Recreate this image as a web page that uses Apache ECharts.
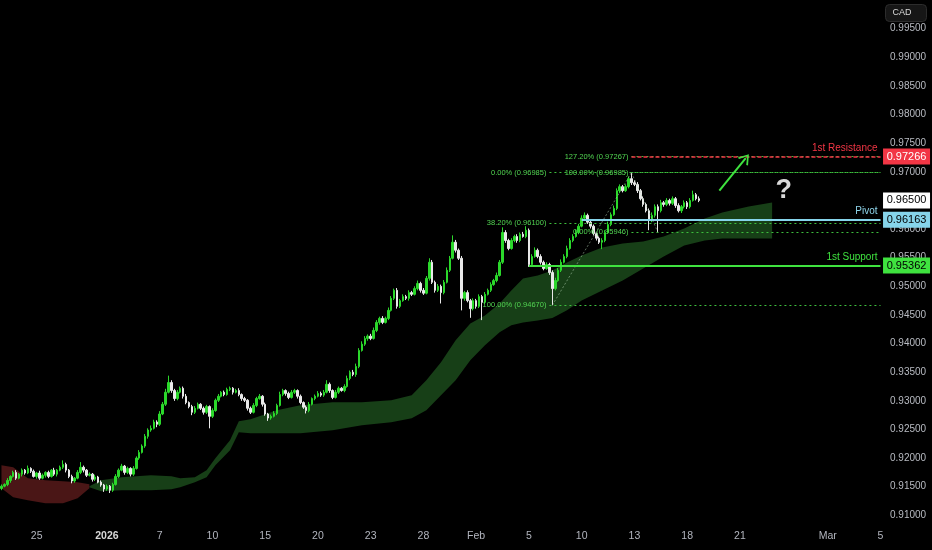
<!DOCTYPE html>
<html><head><meta charset="utf-8">
<script src="https://cdn.jsdelivr.net/npm/echarts@6/dist/echarts.min.js"></script>
<style>html,body{margin:0;padding:0;background:#000}#c{width:932px;height:550px}</style>
</head><body><div id="c"></div>
<script>
// ---- time axis: trading days (6 four-hour bars per day), labels of the days that carry one
const dayLabels = ['', '', '25', '', '', '', '2026', '', '', '7', '', '', '10', '', '', '15', '', '', '20', '', '', '23', '', '', '28', '', '', 'Feb', '', '', '5', '', '', '10', '', '', '13', '', '', '18', '', '', '21', '', '', '', '', 'Mar', '', '', '5'];
const barsPerDay = 6;
const visibleBars = 301;

// ---- 4h closes (CAD)
const firstOpen = 0.9147;
const closes = [
0.9151,0.9154,0.9161,0.9168,0.9175,0.9165,0.9172,0.9179,0.9174,0.9182,
0.9177,0.9168,0.9174,0.9165,0.9170,0.9175,0.9168,0.9179,0.9172,0.9179,
0.9184,0.9189,0.9179,0.9168,0.9160,0.9165,0.9175,0.9184,0.9179,0.9170,
0.9172,0.9163,0.9167,0.9158,0.9153,0.9146,0.9151,0.9144,0.9154,0.9168,
0.9179,0.9186,0.9175,0.9182,0.9172,0.9182,0.9200,0.9210,0.9221,0.9238,
0.9249,0.9252,0.9263,0.9259,0.9277,0.9294,0.9315,0.9332,0.9318,0.9304,
0.9315,0.9322,0.9308,0.9297,0.9290,0.9280,0.9287,0.9294,0.9287,0.9280,
0.9290,0.9273,0.9283,0.9301,0.9308,0.9315,0.9311,0.9320,0.9322,0.9315,
0.9318,0.9311,0.9304,0.9301,0.9287,0.9280,0.9292,0.9304,0.9308,0.9294,
0.9277,0.9270,0.9273,0.9278,0.9292,0.9311,0.9318,0.9313,0.9306,0.9315,
0.9318,0.9308,0.9297,0.9289,0.9283,0.9294,0.9304,0.9308,0.9313,0.9310,
0.9315,0.9329,0.9318,0.9306,0.9315,0.9322,0.9318,0.9325,0.9339,0.9350,
0.9346,0.9360,0.9388,0.9399,0.9409,0.9413,0.9409,0.9423,0.9437,0.9444,
0.9437,0.9444,0.9458,0.9479,0.9493,0.9465,0.9475,0.9482,0.9479,0.9489,
0.9486,0.9496,0.9505,0.9493,0.9488,0.9514,0.9542,0.9507,0.9493,0.9500,
0.9489,0.9507,0.9528,0.9549,0.9577,0.9563,0.9549,0.9479,0.9489,0.9475,
0.9461,0.9475,0.9465,0.9482,0.9472,0.9486,0.9493,0.9503,0.9510,0.9519,
0.9542,0.9594,0.9580,0.9566,0.9580,0.9587,0.9580,0.9591,0.9587,0.9598,
0.9538,0.9552,0.9563,0.9552,0.9542,0.9531,0.9538,0.9524,0.9496,0.9510,
0.9528,0.9542,0.9552,0.9566,0.9580,0.9587,0.9594,0.9605,0.9619,0.9624,
0.9612,0.9605,0.9592,0.9584,0.9577,0.9580,0.9594,0.9608,0.9625,0.9636,
0.9667,0.9674,0.9667,0.9674,0.9688,0.9681,0.9678,0.9667,0.9653,0.9643,
0.9632,0.9615,0.9624,0.9639,0.9632,0.9646,0.9643,0.9650,0.9645,0.9653,
0.9641,0.9632,0.9639,0.9646,0.9639,0.9650,0.9660,0.9653,0.9650];
// wick lengths beyond the body, in pips (0.0001)
const upperWickPips = [
3,2,4,2,3,4,2,3,2,5, 2,3,2,4,3,2,3,2,4,2, 3,7,3,2,3,2,4,9,3,2, 3,2,4,2,3,2,3,2,3,4,
3,4,2,3,2,4,3,4,3,4, 3,5,4,3,5,4,6,12,4,3, 4,3,3,4,2,3,4,3,2,3, 3,2,4,3,4,2,3,3,3,2,
3,4,2,3,2,3,4,3,4,2, 3,2,3,4,3,5,3,2,3,4, 3,2,3,2,3,4,2,3,4,3, 4,7,3,2,4,3,2,4,5,3,
4,5,4,5,4,3,4,5,4,3, 4,3,5,4,3,4,3,4,3,4, 3,4,5,3,4,4,7,4,3,4, 3,4,5,4,12,4,3,4,3,4,
3,4,3,4,3,4,3,4,3,5, 4,9,4,3,4,3,4,3,4,7, 3,4,5,3,4,3,4,3,4,5, 4,5,4,5,4,4,5,4,5,5,
3,4,3,2,3,4,4,5,4,5, 4,4,3,4,4,10.5,4,4,3,4, 3,4,5,4,4,5,3,4,3,4, 3,4,3,4,3,4,7,3,4];
const lowerWickPips = [
3,2,3,4,2,3,2,4,3,2, 3,2,4,3,2,4,3,2,3,4, 2,3,4,3,4,3,2,3,4,3, 2,4,3,2,3,5,3,5,3,2,
3,2,4,3,4,3,2,3,2,3, 4,3,2,5,3,2,3,2,4,4, 3,2,4,3,3,5,3,2,3,4, 3,21,3,2,3,2,3,2,3,4,
2,3,4,3,4,3,2,3,2,4, 3,5,3,2,3,2,3,4,3,2, 3,4,3,3,5,3,2,3,2,3, 3,2,4,3,2,3,2,3,2,3,
3,4,3,2,3,4,3,2,3,4, 3,2,3,2,3,4,3,2,3,4, 3,2,3,4,3,2,4,3,4,3, 19,3,2,3,2,4,3,21,4,3,
16,3,4,3,31,3,2,3,2,3, 2,3,4,3,2,3,4,3,2,3, 4,3,2,3,4,3,2,4,29,3, 2,3,2,3,2,3,2,3,2,3,
3,4,3,4,3,12,3,2,3,2, 3,4,3,2,3,4,3,4,3,4, 3,17,3,4,37.4,3,4,3,4,3, 4,3,4,3,4,3,2,3,3];

// ---- Ichimoku cloud outline (bar index, span top, span bottom)
const bearCloudIdx = [0,4,9,15,21,26,30];
const bearCloudTop = [0.91875,0.91840,0.91648,0.91613,0.91596,0.91578,0.91543];
const bearCloudBot = [0.91474,0.91316,0.91264,0.91212,0.91212,0.91299,0.91474];
const bullCloudIdx = [30,34,41,51,58,61,66,70,73,78,81,85,94,102,113,123,133,140,145,150,155,160,165,170,174,178,183,188,193,198,205,212,219,226,233,240,246,255,263];
const bullCloudTop = [0.91509,0.91613,0.91666,0.91700,0.91683,0.91648,0.91666,0.91788,0.91997,0.92311,0.92643,0.92678,0.92834,0.92922,0.92974,0.92974,0.93009,0.93096,0.93358,0.93672,0.94056,0.94352,0.94492,0.94702,0.94929,0.95138,0.95190,0.95278,0.95417,0.95539,0.95679,0.95749,0.95784,0.95871,0.96010,0.96185,0.96289,0.96394,0.96464];
const bullCloudBot = [0.91491,0.91421,0.91439,0.91439,0.91456,0.91491,0.91578,0.91666,0.91875,0.92136,0.92451,0.92434,0.92434,0.92434,0.92486,0.92573,0.92625,0.92695,0.92834,0.93096,0.93358,0.93707,0.93969,0.94196,0.94318,0.94370,0.94405,0.94446,0.94580,0.94754,0.94929,0.95103,0.95312,0.95522,0.95713,0.95801,0.95836,0.95836,0.95836];

// ---- levels
const levelNames = ['1st Resistance', 'Pivot', '1st Support'];
const levelValues = [0.97266, 0.96163, 0.95362];
const levelFromBar = [215, 198, 180];
const lastPrice = 0.96500;
// Fibonacci retracement (A=0.94670 low, B=0.96985 high) and extension (C=0.95946)
const fibRetPct = ['100.00%', '38.20%', '0.00%'];
const fibRetVal = [0.94670, 0.96100, 0.96985];
const fibExtPct = ['0.00%', '100.00%', '127.20%'];
const fibExtVal = [0.95946, 0.96985, 0.97267];
const fibA = [188, 0.94670], fibB = [215, 0.96985], fibC = [224, 0.95946];
const projection = [[245, 0.96670], [254, 0.97240]];
const questionAt = [267, 0.96680];

// ---- build
const cats = [];
for (let d = 0; d < dayLabels.length; d++) for (let h = 0; h < barsPerDay; h++) cats.push(d + ':' + h);
const categories = cats.slice(0, visibleBars);
const candles = closes.map((c, i) => {
  const o = i === 0 ? firstOpen : closes[i - 1];
  return [o, c, Math.min(o, c) - lowerWickPips[i] / 10000, Math.max(o, c) + upperWickPips[i] / 10000];
});
const lastBar = visibleBars - 1;
const FONT = 'Liberation Sans, Arial, sans-serif';
const GREEN_TXT = '#52d652', FIB_LINE = '#3dbf3d';

function cloud(idx, top, bot, color) {
  return {
    type: 'custom', z: 1, silent: true, clip: true, data: [[idx[0], top[0]]],
    renderItem: (p, api) => {
      const pts = [];
      idx.forEach((x, k) => pts.push(api.coord([x, top[k]])));
      for (let k = idx.length - 1; k >= 0; k--) pts.push(api.coord([idx[k], bot[k]]));
      return { type: 'polygon', shape: { points: pts }, style: { fill: color } };
    }
  };
}

const fibLabel = (txt) => ({ show: true, position: 'start', distance: 3, formatter: txt, color: GREEN_TXT, fontSize: 7.5, fontFamily: FONT });
const mlData = [];
fibRetVal.forEach((v, k) => mlData.push([
  { coord: [187, v], lineStyle: { color: FIB_LINE, type: [2, 3], width: 1 }, label: fibLabel(fibRetPct[k] + ' (' + v.toFixed(5) + ')') },
  { coord: [lastBar, v] }]));
fibExtVal.forEach((v, k) => mlData.push([
  { coord: [fibB[0], v], lineStyle: { color: FIB_LINE, type: [2, 3], width: 1 }, label: fibLabel(fibExtPct[k] + ' (' + v.toFixed(5) + ')') },
  { coord: [lastBar, v] }]));
mlData.push([{ coord: fibA, lineStyle: { color: 'rgba(170,200,170,0.55)', type: [2, 2], width: 1 }, label: { show: false } }, { coord: fibB }]);
mlData.push([{ coord: fibB, lineStyle: { color: 'rgba(170,200,170,0.55)', type: [2, 2], width: 1 }, label: { show: false } }, { coord: fibC }]);
const levelColors = ['#f23645', '#86d4ea', '#3fe23f'];
const levelTxt = ['#f23645', '#8fd6ec', '#3fe23f'];
levelValues.forEach((v, k) => mlData.push([
  { coord: [levelFromBar[k], v],
    lineStyle: { color: levelColors[k], width: k === 0 ? 1.5 : 2, type: k === 0 ? [4, 2] : 'solid' },
    label: { show: true, position: 'insideEndTop', distance: 3, formatter: levelNames[k], color: levelTxt[k], fontSize: 10, fontFamily: FONT } },
  { coord: [lastBar, v] }]));
mlData.push([
  { coord: projection[0], lineStyle: { color: '#3fe23f', width: 2, type: 'solid' }, label: { show: false } },
  { coord: projection[1], symbol: 'path://M0,10 L5,0 L10,10 L8.6,10.6 L5,3 L1.4,10.6 Z', symbolSize: [13, 10] }]);

const tagValues = [levelValues[0], lastPrice, levelValues[1], levelValues[2]];
const tagBg = ['#f23645', '#ffffff', '#86d4ea', '#3fe23f'];
const tagFg = ['#ffffff', '#000000', '#000000', '#000000'];
const mpData = tagValues.map((v, k) => ({
  coord: [lastBar, v], symbol: 'rect', symbolSize: [47, 16], symbolOffset: [26, 0],
  itemStyle: { color: tagBg[k] },
  label: { show: true, position: 'inside', formatter: v.toFixed(5), color: tagFg[k], fontSize: 11, fontFamily: FONT }
}));
mpData.push({ coord: questionAt, symbol: 'circle', symbolSize: 1, itemStyle: { color: 'rgba(0,0,0,0)' },
  label: { show: true, position: 'inside', formatter: '?', color: '#d9d9d9', fontSize: 27, fontWeight: 'bold', fontFamily: FONT } });

const chart = echarts.init(document.getElementById('c'), null, { renderer: 'canvas' });
chart.setOption({
  animation: false,
  backgroundColor: '#000000',
  grid: { left: 0, right: 50, top: -1, height: 545 },
  xAxis: {
    type: 'category', data: categories, boundaryGap: true, offset: -16,
    axisLine: { show: false }, axisTick: { show: false }, splitLine: { show: false },
    axisLabel: {
      margin: 3, color: '#b2b5be', fontSize: 10.5, fontFamily: FONT,
      interval: (i, v) => { const [d, h] = v.split(':'); return h === '0' && dayLabels[+d] !== ''; },
      formatter: (v) => { const [d, h] = v.split(':'); const t = dayLabels[+d]; return t === '2026' ? '{b|' + t + '}' : t; },
      rich: { b: { fontWeight: 'bold', color: '#d8d8d8', fontSize: 10.5, fontFamily: FONT } }
    }
  },
  yAxis: {
    type: 'value', position: 'right', min: 0.905, max: 1.0, interval: 0.005, scale: true,
    axisLine: { show: false }, axisTick: { show: false }, splitLine: { show: false },
    axisLabel: { margin: 8, color: '#b8bbc2', fontSize: 10, fontFamily: FONT, showMinLabel: false, showMaxLabel: false,
      formatter: (v) => (v > 0.9999 || v < 0.9075) ? '' : v.toFixed(5) }
  },
  graphic: [{
    type: 'group', right: 5, top: 4, children: [
      { type: 'rect', shape: { x: 0, y: 0, width: 41, height: 17, r: 4 }, style: { fill: '#161616', stroke: '#2c2c2c' } },
      { type: 'text', x: 7, y: 4, style: { text: 'CAD', fill: '#d8d8d8', fontSize: 9, fontFamily: FONT } }
    ]
  }],
  series: [
    cloud(bearCloudIdx, bearCloudTop, bearCloudBot, '#4a1616'),
    cloud(bullCloudIdx, bullCloudTop, bullCloudBot, '#173f17'),
    {
      type: 'candlestick', z: 3, data: candles, barWidth: 2,
      itemStyle: { color: '#2bd82b', color0: '#e9e9e9', borderColor: '#2bd82b', borderColor0: '#e9e9e9', borderWidth: 1 },
      markLine: { silent: true, symbol: ['none', 'none'], animation: false, data: mlData, label: { show: false } },
      markPoint: { silent: true, animation: false, data: mpData }
    }
  ]
});
</script></body></html>
